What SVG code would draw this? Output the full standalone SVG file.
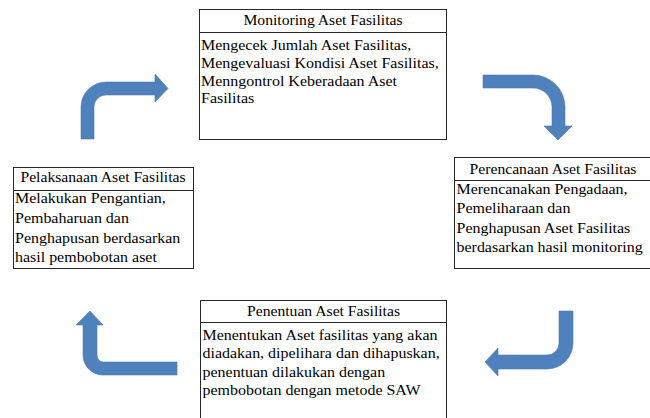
<svg xmlns="http://www.w3.org/2000/svg" width="650" height="418" viewBox="0 0 650 418">
  <style>
    .box { fill: #ffffff; stroke: #262626; stroke-width: 1; }
    .div { stroke: #262626; stroke-width: 1; }
    .head { font-family: "Liberation Serif", "Times New Roman", "DejaVu Serif", serif; font-size: 14.5px; fill: #000; text-anchor: middle; }
    .body { font-family: "Liberation Serif", "Times New Roman", "DejaVu Serif", serif; font-size: 15px; fill: #000; }
    .arrow { fill: #4f81bd; stroke: #4a78b0; stroke-width: 0.6; }
  </style>

  <g id="monitoring">
    <rect class="box" x="199.5" y="9.5" width="247" height="130"/>
    <line class="div" x1="199.5" y1="32.5" x2="446.5" y2="32.5"/>
    <text class="head" transform="translate(323,25) scale(1.08,1)">Monitoring Aset Fasilitas</text>
    <g class="body" transform="translate(201,0) scale(1.065,1)">
      <text y="50">Mengecek Jumlah Aset Fasilitas,</text>
      <text y="68.5">Mengevaluasi Kondisi Aset Fasilitas,</text>
      <text y="86">Menngontrol Keberadaan Aset</text>
      <text y="103.5">Fasilitas</text>
    </g>
  </g>

  <g id="perencanaan">
    <rect class="box" x="454.5" y="157.5" width="200" height="111"/>
    <line class="div" x1="454.5" y1="180.5" x2="654" y2="180.5"/>
    <text class="head" transform="translate(553,173.5) scale(1.08,1)">Perencanaan Aset Fasilitas</text>
    <g class="body" transform="translate(456.5,0) scale(1.065,1)">
      <text y="194.5">Merencanakan Pengadaan,</text>
      <text y="213.5">Pemeliharaan dan</text>
      <text y="233">Penghapusan Aset Fasilitas</text>
      <text y="252">berdasarkan hasil monitoring</text>
    </g>
  </g>

  <g id="pelaksanaan">
    <rect class="box" x="13.5" y="167.5" width="180" height="101"/>
    <line class="div" x1="13.5" y1="190.5" x2="193.5" y2="190.5"/>
    <text class="head" transform="translate(103,182) scale(1.08,1)">Pelaksanaan Aset Fasilitas</text>
    <g class="body" transform="translate(15,0) scale(1.065,1)">
      <text y="203.5">Melakukan Pengantian,</text>
      <text y="223.5">Pembaharuan dan</text>
      <text y="243">Penghapusan berdasarkan</text>
      <text y="262">hasil pembobotan aset</text>
    </g>
  </g>

  <g id="penentuan">
    <rect class="box" x="200.5" y="300.5" width="246" height="130"/>
    <line class="div" x1="200.5" y1="322.5" x2="446.5" y2="322.5"/>
    <text class="head" transform="translate(323.5,316) scale(1.08,1)">Penentuan Aset Fasilitas</text>
    <g class="body" transform="translate(202.5,0) scale(1.065,1)">
      <text y="340">Menentukan Aset fasilitas yang akan</text>
      <text y="358.5">diadakan, dipelihara dan dihapuskan,</text>
      <text y="377">penentuan dilakukan dengan</text>
      <text y="395.5">pembobotan dengan metode SAW</text>
    </g>
  </g>

  <g id="connectors">
    <path class="arrow" d="M81,139 L81,107 A25,25 0 0 1 106,82 L155,82 L155,74 L168,88.5 L155,102 L155,95 L106,95 A12,12 0 0 0 94,107 L94,139 Z"/>
    <path class="arrow" d="M483,75 L533,75 A32,32 0 0 1 565,107 L565,126 L572,126 L558,140 L544,126 L552,126 L552,107 A19,19 0 0 0 533,88 L483,88 Z"/>
    <path class="arrow" d="M573,311 L573,343 A26,26 0 0 1 547,369 L498,369 L498,376 L485,362 L498,348 L498,355 L547,355 A12,12 0 0 0 559,343 L559,311 Z"/>
    <path class="arrow" d="M97,325 L103,325 L90,311 L76,325 L83,325 L83,355 A20,20 0 0 0 103,375 L177,375 L177,362 L103,362 A6,7 0 0 1 97,355 Z"/>
  </g>
</svg>
